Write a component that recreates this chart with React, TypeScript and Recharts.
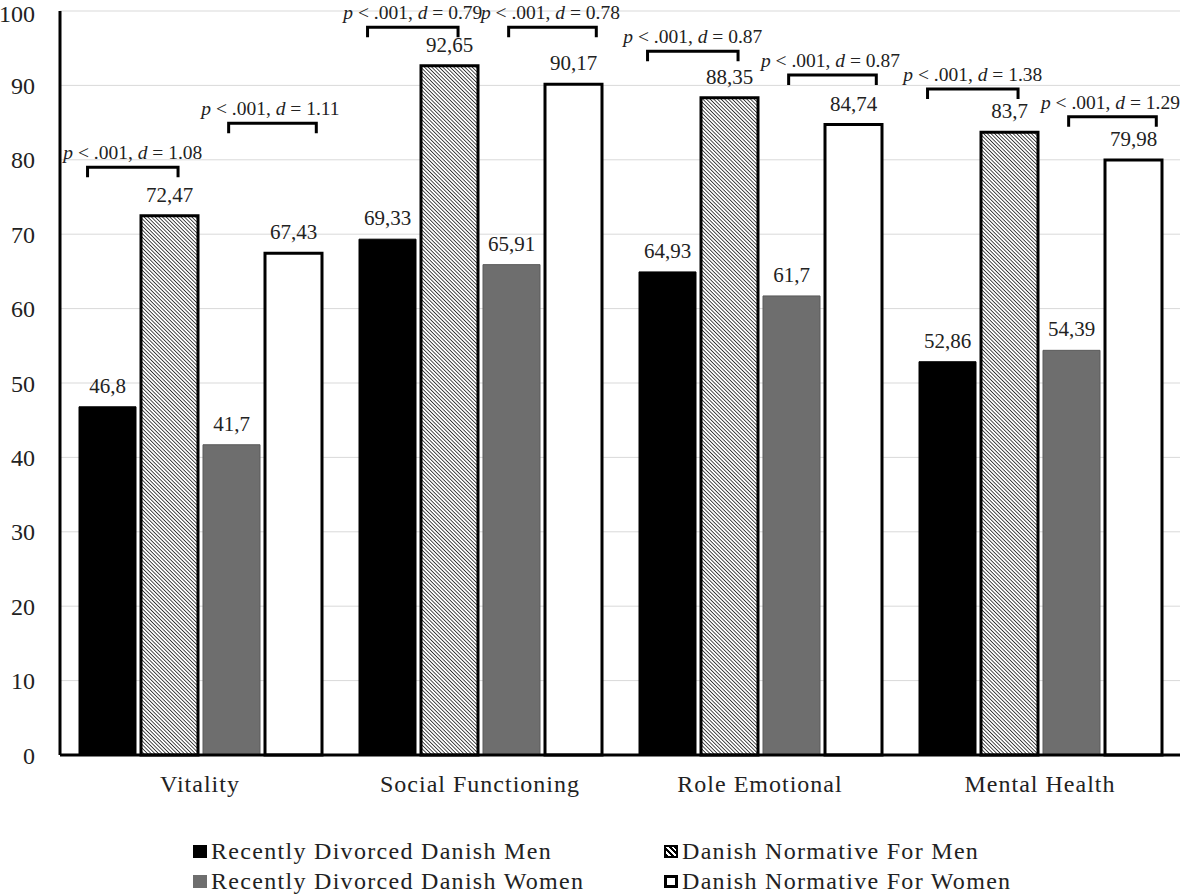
import { BarChart, Bar, XAxis, YAxis, CartesianGrid, LabelList, Rectangle } from "recharts";

document.body.style.margin = "0";

const categories = ["Vitality", "Social Functioning", "Role Emotional", "Mental Health"];
const divorcedMen = [46.8, 69.33, 64.93, 52.86];
const normativeMen = [72.47, 92.65, 88.35, 83.7];
const divorcedWomen = [41.7, 65.91, 61.7, 54.39];
const normativeWomen = [67.43, 90.17, 84.74, 79.98];

// effect sizes + height of the comparison brackets (in axis units)
const menEffect = ["1.08", "0.79", "0.87", "1.38"];
const womenEffect = ["1.11", "0.78", "0.87", "1.29"];
const menBracket = [79.0, 97.8, 94.6, 89.5];
const womenBracket = [84.9, 97.8, 91.4, 85.8];

const yTicks = [0, 10, 20, 30, 40, 50, 60, 70, 80, 90, 100];

const data = categories.map((name, i) => ({
  name,
  divorcedMen: divorcedMen[i],
  normativeMen: normativeMen[i],
  divorcedWomen: divorcedWomen[i],
  normativeWomen: normativeWomen[i],
}));

const FONT = "'Liberation Serif', 'Times New Roman', serif";
const BAR_GAP = 5;

const fmt = (v: any) => String(v).replace(".", ",");

function BracketBar(props: any, key: string, level: number[], effect: string[], from: number, to: number, shift: number) {
  const { x, y, width, height, fill, stroke, strokeWidth, index } = props;
  const value = props.payload[key];
  const base = y + height;
  const ly = base - (level[index] * height) / value;
  const x1 = x + width * from;
  const x2 = x + width + BAR_GAP + width * to;
  const cx = (x1 + x2) / 2 + shift;
  return (
    <g>
      <Rectangle x={x} y={y} width={width} height={height} fill={fill} stroke={stroke} strokeWidth={strokeWidth} />
      <path d={`M${x1},${ly + 10}V${ly}H${x2}V${ly + 10}`} fill="none" stroke="#000" strokeWidth={3} />
      <text x={cx} y={ly - 8} textAnchor="middle" fontFamily={FONT} fontSize={19.5} fill="#222">
        <tspan fontStyle="italic">p</tspan>
        {" < .001, "}
        <tspan fontStyle="italic">d</tspan>
        {` = ${effect[index]}`}
      </text>
    </g>
  );
}

const labelStyle = { fontFamily: FONT, fontSize: 21, fill: "#222" };

export default function App() {
  return (
    <div style={{ position: "relative", width: 1200, height: 895, background: "#fff" }}>
      <BarChart
        width={1200}
        height={895}
        data={data}
        margin={{ top: 11, right: 20, left: 0, bottom: 90 }}
        barSize={57}
        barGap={BAR_GAP}
        barCategoryGap={18}
      >
        <defs>
          <pattern id="hatch" patternUnits="userSpaceOnUse" width="2.6" height="2.6" patternTransform="rotate(-45)">
            <rect width="2.6" height="2.6" fill="#fff" />
            <line x1="0" y1="0" x2="0" y2="2.6" stroke="#000" strokeWidth="1.4" />
          </pattern>
        </defs>
        <CartesianGrid vertical={false} stroke="#d9d9d9" strokeWidth={1} />
        <XAxis
          dataKey="name"
          axisLine={{ stroke: "#000", strokeWidth: 3 }}
          tickLine={false}
          tickSize={0}
          tickMargin={20}
          height={50}
          tick={{ fontFamily: FONT, fontSize: 24, fill: "#222", letterSpacing: 1 }}
        />
        <YAxis
          domain={[0, 100]}
          ticks={yTicks}
          width={60}
          axisLine={{ stroke: "#000", strokeWidth: 3 }}
          tickLine={false}
          tickSize={0}
          tickMargin={25}
          tick={{ fontFamily: FONT, fontSize: 24, fill: "#222" }}
        />
        <Bar
          dataKey="divorcedMen"
          fill="#000"
          stroke="#000"
          strokeWidth={1}
          isAnimationActive={false}
          shape={(p: any) => BracketBar(p, "divorcedMen", menBracket, menEffect, 0.15, 0.65, 0)}
        >
          <LabelList dataKey="divorcedMen" position="top" offset={14} formatter={fmt} style={labelStyle} />
        </Bar>
        <Bar dataKey="normativeMen" fill="url(#hatch)" stroke="#000" strokeWidth={3} isAnimationActive={false}>
          <LabelList dataKey="normativeMen" position="top" offset={14} formatter={fmt} style={labelStyle} />
        </Bar>
        <Bar
          dataKey="divorcedWomen"
          fill="#6e6e6e"
          stroke="#5a5a5a"
          strokeWidth={1}
          isAnimationActive={false}
          shape={(p: any) => BracketBar(p, "divorcedWomen", womenBracket, womenEffect, 0.45, 0.9, -2)}
        >
          <LabelList dataKey="divorcedWomen" position="top" offset={14} formatter={fmt} style={labelStyle} />
        </Bar>
        <Bar dataKey="normativeWomen" fill="#fff" stroke="#000" strokeWidth={3} isAnimationActive={false}>
          <LabelList dataKey="normativeWomen" position="top" offset={14} formatter={fmt} style={labelStyle} />
        </Bar>
      </BarChart>
      <Legend />
    </div>
  );
}

const legendItems = [
  { label: "Recently Divorced Danish Men", swatch: { background: "#000" }, left: 193, top: 837 },
  { label: "Danish Normative For Men", swatch: { background: "repeating-linear-gradient(45deg, #000 0 2px, #fff 2px 4px)", border: "2px solid #000" }, left: 664, top: 837 },
  { label: "Recently Divorced Danish Women", swatch: { background: "#6e6e6e" }, left: 193, top: 867 },
  { label: "Danish Normative For Women", swatch: { background: "#fff", border: "3px solid #000" }, left: 664, top: 867 },
];

function Legend() {
  return (
    <>
      {legendItems.map((it) => (
        <div
          key={it.label}
          style={{
            position: "absolute",
            left: it.left,
            top: it.top,
            display: "flex",
            alignItems: "center",
            fontFamily: FONT,
            fontSize: 24,
            letterSpacing: 1.3,
            color: "#222",
            lineHeight: "28px",
            whiteSpace: "nowrap",
          }}
        >
          <span style={{ display: "inline-block", width: 14, height: 13, boxSizing: "border-box", marginRight: 4, ...it.swatch }} />
          {it.label}
        </div>
      ))}
    </>
  );
}
